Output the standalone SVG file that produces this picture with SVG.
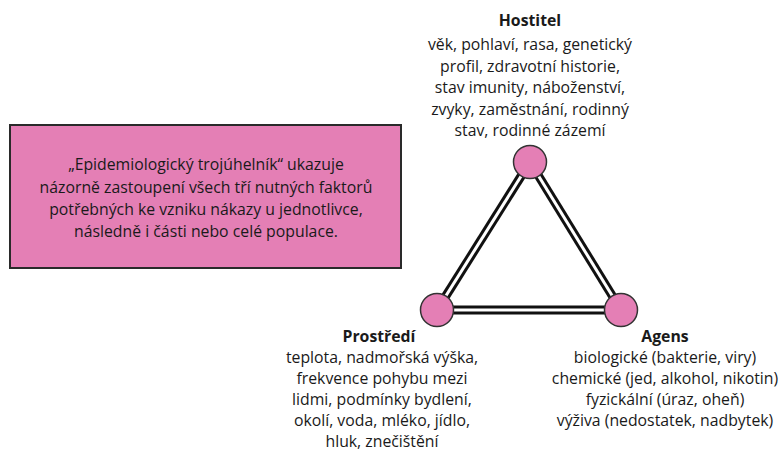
<svg xmlns="http://www.w3.org/2000/svg" width="782" height="453" viewBox="0 0 782 453">
<style>
text{font-family:"Open Sans","Liberation Sans",sans-serif;font-size:15.8px;fill:#1a1a1a;text-anchor:middle}
.b{font-weight:bold}
.node{fill:#e47fb5;stroke:#333;stroke-width:1.5}
.outer{stroke:#111;stroke-width:9;stroke-linecap:butt}
.inner{stroke:#fff;stroke-width:3;stroke-linecap:butt}
</style>
<rect width="782" height="453" fill="#fff"/>
<g id="info">
<rect x="10" y="125" width="391" height="143" fill="#e47fb5" stroke="#2a2a2a" stroke-width="2"/>
<text x="206" y="170">„Epidemiologický trojúhelník“ ukazuje</text>
<text x="206" y="193">názorně zastoupení všech tří nutných faktorů</text>
<text x="206" y="215">potřebných ke vzniku nákazy u jednotlivce,</text>
<text x="206" y="237">následně i části nebo celé populace.</text>
</g>
<g id="connectors">
<line class="outer" x1="530" y1="162" x2="437" y2="310"/>
<line class="outer" x1="530" y1="162" x2="621" y2="310"/>
<line class="outer" x1="437" y1="310" x2="621" y2="310"/>
<line class="inner" x1="530" y1="162" x2="437" y2="310"/>
<line class="inner" x1="530" y1="162" x2="621" y2="310"/>
<line class="inner" x1="437" y1="310" x2="621" y2="310"/>
</g>
<g id="hostitel">
<circle class="node" cx="530" cy="162" r="16.5"/>
<text class="b" x="530" y="26">Hostitel</text>
<text x="530" y="50">věk, pohlaví, rasa, genetický</text>
<text x="530" y="72">profil, zdravotní historie,</text>
<text x="530" y="93">stav imunity, náboženství,</text>
<text x="530" y="115">zvyky, zaměstnání, rodinný</text>
<text x="530" y="136">stav, rodinné zázemí</text>
</g>
<g id="prostredi">
<circle class="node" cx="437" cy="310" r="16.5"/>
<text class="b" x="379" y="342">Prostředí</text>
<text x="382" y="363">teplota, nadmořská výška,</text>
<text x="382" y="384">frekvence pohybu mezi</text>
<text x="382" y="405">lidmi, podmínky bydlení,</text>
<text x="382" y="426">okolí, voda, mléko, jídlo,</text>
<text x="382" y="447">hluk, znečištění</text>
</g>
<g id="agens">
<circle class="node" cx="621" cy="310" r="16.5"/>
<text class="b" x="665" y="342">Agens</text>
<text x="665" y="363">biologické (bakterie, viry)</text>
<text x="665" y="384">chemické (jed, alkohol, nikotin)</text>
<text x="665" y="405">fyzickální (úraz, oheň)</text>
<text x="665" y="426">výživa (nedostatek, nadbytek)</text>
</g>
</svg>
